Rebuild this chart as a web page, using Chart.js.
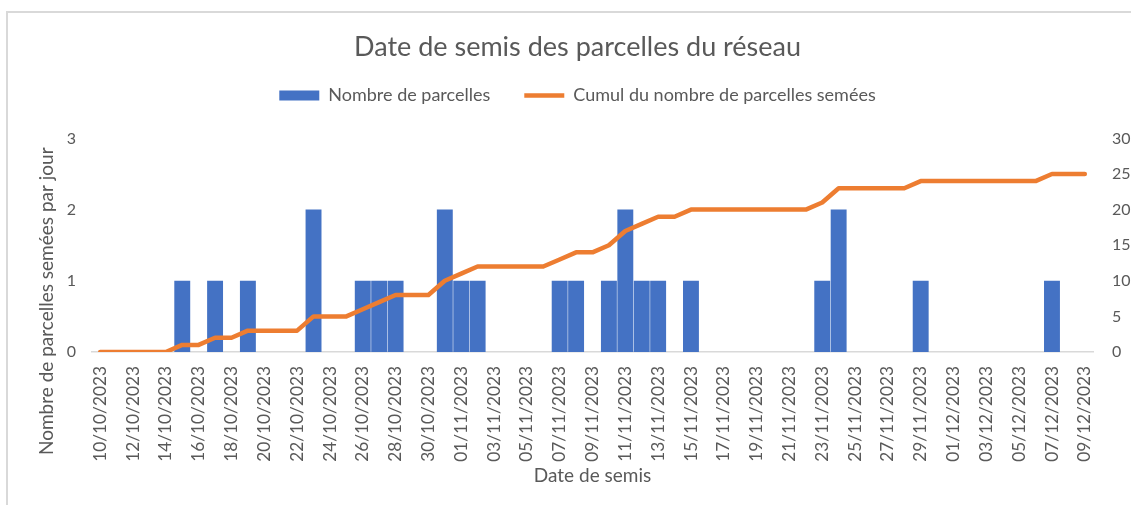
<!DOCTYPE html>
<html>
<head>
<meta charset="utf-8">
<title>Date de semis des parcelles du réseau</title>
<script src="https://cdn.jsdelivr.net/npm/chart.js"></script>
<style>
  html, body { margin: 0; padding: 0; background: #fff; overflow: hidden; }
  #wrap { position: relative; width: 1131px; height: 505px; }
  #frame { position: absolute; left: 6px; top: 11px; width: 1200px; height: 600px;
           border-top: 2px solid #d9d9d9; border-left: 2px solid #d9d9d9; }
  canvas { position: absolute; left: 0; top: 0; }
</style>
</head>
<body>
<div id="wrap">
  <div id="frame"></div>
  <canvas id="chart" width="1131" height="505"></canvas>
</div>
<script>
// Dates (une par jour)
const dates = [
  '10/10/2023','11/10/2023','12/10/2023','13/10/2023','14/10/2023','15/10/2023','16/10/2023',
  '17/10/2023','18/10/2023','19/10/2023','20/10/2023','21/10/2023','22/10/2023','23/10/2023',
  '24/10/2023','25/10/2023','26/10/2023','27/10/2023','28/10/2023','29/10/2023','30/10/2023',
  '31/10/2023','01/11/2023','02/11/2023','03/11/2023','04/11/2023','05/11/2023','06/11/2023',
  '07/11/2023','08/11/2023','09/11/2023','10/11/2023','11/11/2023','12/11/2023','13/11/2023',
  '14/11/2023','15/11/2023','16/11/2023','17/11/2023','18/11/2023','19/11/2023','20/11/2023',
  '21/11/2023','22/11/2023','23/11/2023','24/11/2023','25/11/2023','26/11/2023','27/11/2023',
  '28/11/2023','29/11/2023','30/11/2023','01/12/2023','02/12/2023','03/12/2023','04/12/2023',
  '05/12/2023','06/12/2023','07/12/2023','08/12/2023','09/12/2023'
];

// Nombre de parcelles semées par jour
const nbParcelles = [
  0,0,0,0,0,1,0, 1,0,1,0,0,0,2, 0,0,1,1,1,0,0,
  2,1,1,0,0,0,0, 1,1,0,1,2,1,1, 0,1,0,0,0,0,0,
  0,0,1,2,0,0,0, 0,1,0,0,0,0,0, 0,0,1,0,0
];

// Cumul du nombre de parcelles semées
const cumul = [
  0,0,0,0,0,1,1, 2,2,3,3,3,3,5, 5,5,6,7,8,8,8,
  10,11,12,12,12,12,12, 13,14,14,15,17,18,19, 19,20,20,20,20,20,20,
  20,20,21,23,23,23,23, 23,24,24,24,24,24,24, 24,24,25,25,25
];

const TITRE = 'Date de semis des parcelles du réseau';
const TITRE_Y = 'Nombre de parcelles semées par jour';
const TITRE_X = 'Date de semis';

const TXT = '#595959';
const FONT = 'Lato';

// titre de l'axe Y centré comme dans Excel + espace sous la légende
const yTitlePlugin = {
  id: 'yTitle',
  afterInit(chart) {
    const fit = chart.legend.fit;
    chart.legend.fit = function () {
      fit.call(this);
      this.height += 24;
    };
  },
  afterDraw(chart) {
    const { ctx, chartArea } = chart;
    const y = (chartArea.top + chartArea.bottom) / 2 + 56;
    ctx.save();
    ctx.translate(47, y);
    ctx.rotate(-Math.PI / 2);
    ctx.textAlign = 'center';
    ctx.textBaseline = 'middle';
    ctx.font = '19px ' + FONT;
    ctx.fillStyle = TXT;
    ctx.fillText(TITRE_Y, 0, 0);
    ctx.restore();
  }
};

new Chart(document.getElementById('chart'), {
  data: {
    labels: dates,
    datasets: [
      {
        type: 'bar',
        label: 'Nombre de parcelles',
        data: nbParcelles,
        backgroundColor: '#4472C4',
        borderWidth: 0,
        barPercentage: 1,
        categoryPercentage: 0.97,
        yAxisID: 'y',
        order: 2
      },
      {
        type: 'line',
        label: 'Cumul du nombre de parcelles semées',
        data: cumul,
        borderColor: '#ED7D31',
        backgroundColor: '#ED7D31',
        borderWidth: 4.5,
        borderCapStyle: 'round',
        borderJoinStyle: 'round',
        pointRadius: 0,
        tension: 0,
        yAxisID: 'y1',
        order: 1
      }
    ]
  },
  options: {
    responsive: false,
    animation: false,
    layout: { padding: { left: 24, right: 0, top: 0, bottom: 18 } },
    plugins: {
      title: {
        display: true,
        text: TITRE,
        color: TXT,
        font: { family: FONT, size: 27, weight: 'normal' },
        padding: { top: 31, bottom: -11 }
      },
      legend: {
        position: 'top',
        labels: {
          color: TXT,
          font: { family: FONT, size: 18 },
          usePointStyle: true,
          pointStyleWidth: 40,
          boxHeight: 10,
          padding: 34,
          sort: (a, b) => a.datasetIndex - b.datasetIndex,
          generateLabels(chart) {
            const items = Chart.defaults.plugins.legend.labels.generateLabels(chart);
            items.forEach(it => {
              it.pointStyle = it.datasetIndex === 0 ? 'rect' : 'line';
              it.fontColor = TXT;
            });
            return items;
          }
        }
      },
      tooltip: { enabled: false }
    },
    scales: {
      x: {
        grid: { display: true, drawOnChartArea: false, drawTicks: true, tickLength: 14, tickColor: 'rgba(0,0,0,0)' },
        border: { color: '#d9d9d9', width: 1.5 },
        ticks: {
          autoSkip: false,
          minRotation: 90,
          maxRotation: 90,
          padding: 0,
          color: TXT,
          font: { family: FONT, size: 17.3 },
          callback: (v, i) => (i % 2 === 0 ? dates[i] : '')
        },
        title: {
          display: true,
          text: TITRE_X,
          color: TXT,
          font: { family: FONT, size: 19 },
          padding: { top: 0, bottom: 0 }
        },
        afterFit(scale) { scale.height = 135; }
      },
      y: {
        position: 'left',
        min: 0,
        max: 3,
        grid: { display: false, drawTicks: false },
        border: { display: false },
        ticks: { stepSize: 1, padding: 16, color: TXT, font: { family: FONT, size: 16 } },
        afterFit(scale) { scale.width = 68; }
      },
      y1: {
        position: 'right',
        min: 0,
        max: 30,
        grid: { display: false, drawTicks: false },
        border: { display: false },
        ticks: { stepSize: 5, padding: 19, color: TXT, font: { family: FONT, size: 16 } },
        afterFit(scale) { scale.width = 38; }
      }
    }
  },
  plugins: [yTitlePlugin]
});
</script>
</body>
</html>
